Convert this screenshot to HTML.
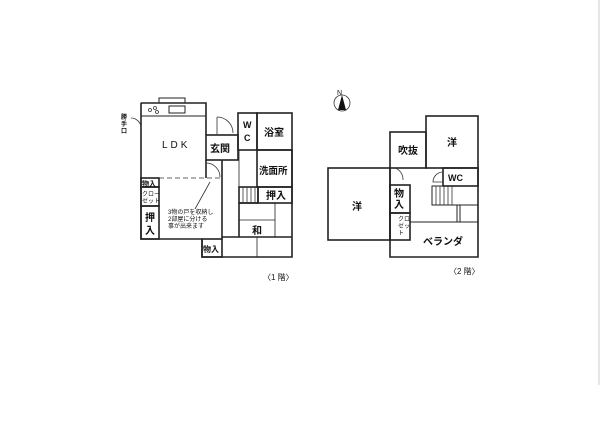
<!DOCTYPE html>
<html><head><meta charset="utf-8"><style>
html,body{margin:0;padding:0;background:#fff;}
svg{display:block}
text{font-family:"Liberation Sans","Noto Sans CJK JP",sans-serif;fill:#111}
</style></head><body>
<svg width="600" height="424" viewBox="0 0 600 424" xmlns="http://www.w3.org/2000/svg">
<rect width="600" height="424" fill="#fff"/>
<line x1="599" y1="0" x2="599" y2="385" stroke="#ccc" stroke-width="1"/>
<g fill="none" stroke="#222" stroke-width="1.6">
<polyline points="141,103 141,239 202,239"/>
<polyline points="141,103 206,103 206,135"/>
<rect x="206" y="135" width="32" height="25"/>
<rect x="238" y="113" width="19" height="37"/>
<rect x="257" y="113" width="35" height="37"/>
<rect x="257" y="150" width="35" height="37"/>
<polyline points="292,150 292,257 202,257 202,239"/>
<rect x="202" y="239" width="20" height="18"/>
<line x1="222" y1="160" x2="222" y2="239"/>
<line x1="206" y1="160" x2="206" y2="178"/>
<rect x="141" y="178" width="18" height="9"/>
<rect x="141" y="187" width="18" height="19"/>
<rect x="141" y="206" width="18" height="33"/>
<rect x="258" y="187" width="34" height="16"/>
<rect x="239" y="187" width="19" height="16"/>
<line x1="239" y1="203" x2="239" y2="237"/>
<line x1="222" y1="237" x2="292" y2="237"/>
<line x1="239" y1="203" x2="258" y2="203"/>
<line x1="239" y1="220" x2="275" y2="220" stroke-width="0.8"/>
<line x1="275" y1="203" x2="275" y2="237" stroke-width="0.8"/>
<line x1="257" y1="237" x2="257" y2="257" stroke-width="0.8"/>
<line x1="239" y1="150" x2="239" y2="187" stroke-width="0.8"/>
<polyline points="159,103 159,98 185,98 185,103" stroke-width="1"/>
<rect x="141" y="103" width="65" height="13" stroke-width="1"/>
<rect x="169" y="106" width="16" height="7" stroke-width="1"/>
<rect x="426" y="116" width="52" height="52"/>
<rect x="390" y="132" width="36" height="36"/>
<rect x="328" y="168" width="62" height="72"/>
<polyline points="390,168 390,257 478,257 478,168"/>
<rect x="390" y="185" width="20" height="28"/>
<rect x="390" y="213" width="20" height="27"/>
<rect x="443" y="168" width="35" height="18"/>
<rect x="432" y="186" width="46" height="19" stroke-width="1"/>
<line x1="410" y1="222" x2="478" y2="222" stroke-width="1"/>
<line x1="457" y1="205" x2="457" y2="222" stroke-width="1"/>
<line x1="460" y1="205" x2="460" y2="222" stroke-width="1"/>
</g>
<g stroke="#333" stroke-width="0.8" fill="none">
<line x1="159" y1="178" x2="222" y2="178" stroke-dasharray="5,3"/>
<line x1="243" y1="187" x2="243" y2="203"/><line x1="247" y1="187" x2="247" y2="203"/><line x1="251" y1="187" x2="251" y2="203"/><line x1="255" y1="187" x2="255" y2="203"/>
<line x1="436" y1="186" x2="436" y2="205"/><line x1="440" y1="186" x2="440" y2="205"/><line x1="444" y1="186" x2="444" y2="205"/><line x1="448" y1="186" x2="448" y2="205"/><line x1="452" y1="186" x2="452" y2="205"/>
<path d="M217,117 A16,16 0 0 1 233,133 M217,117 L217,135"/>
<path d="M206,163 A14,14 0 0 1 220,177"/>
<path d="M131,118 A10,10 0 0 1 141,128"/>
<line x1="210" y1="182" x2="195" y2="209"/>
<path d="M395,168 A12,12 0 0 1 403,180"/>
<path d="M443,172 A10,10 0 0 0 433,182 L443,182"/>
<circle cx="150" cy="110" r="1.5"/><circle cx="155" cy="108" r="1.5"/><circle cx="157" cy="112" r="1.5"/>
<circle cx="342" cy="103" r="8"/>
</g>
<path d="M342,95 L338,110 L346,110 Z" fill="#111"/>
<g font-size="10" font-weight="bold">
<text x="162" y="148" font-size="10" letter-spacing="3" font-weight="normal">LDK</text>
<text x="210" y="152">玄関</text>
<text x="243" y="128" font-size="9">W</text><text x="244" y="141" font-size="9">C</text>
<text x="264" y="136">浴室</text>
<text x="259" y="174" font-size="9.5">洗面所</text>
<text x="266" y="199">押入</text>
<text x="252" y="234">和</text>
<text x="203" y="252" font-size="8">物入</text>
<text x="142" y="186" font-size="7">物入</text>
<text x="142" y="196" font-size="6" font-weight="normal">クロー</text><text x="142" y="203" font-size="6" font-weight="normal">ゼット</text>
<text x="145" y="221">押</text><text x="145" y="234">入</text>
<text x="168" y="214" font-size="6" font-weight="normal">3物の戸を収納し</text>
<text x="168" y="221" font-size="6" font-weight="normal">2部屋に分ける</text>
<text x="168" y="228" font-size="6" font-weight="normal">事が出来ます</text>
<text x="121" y="119" font-size="6">勝</text><text x="121" y="126" font-size="6">手</text><text x="121" y="133" font-size="6">口</text>
<text x="263" y="280" font-size="8" font-weight="normal">〈1 階〉</text>
<text x="337" y="95" font-size="7" font-weight="normal">N</text>
<text x="447" y="146">洋</text>
<text x="398" y="154">吹抜</text>
<text x="352" y="210">洋</text>
<text x="448" y="181" font-size="9">WC</text>
<text x="394" y="197">物</text><text x="394" y="208">入</text>
<text x="398" y="221" font-size="6" font-weight="normal">クロ</text><text x="398" y="228" font-size="6" font-weight="normal">ゼッ</text><text x="398" y="235" font-size="6" font-weight="normal">ト</text>
<text x="423" y="245">ベランダ</text>
<text x="449" y="274" font-size="8" font-weight="normal">〈2 階〉</text>
</g>
</svg>
</body></html>
